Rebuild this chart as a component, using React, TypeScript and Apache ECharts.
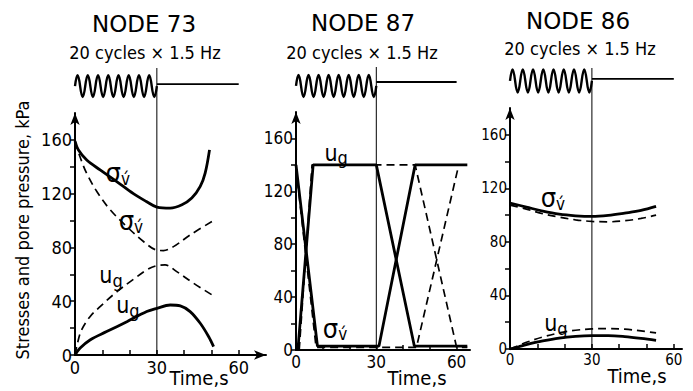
import React, { useEffect, useRef } from "react";
import * as echarts from "echarts";

// ---------- text ----------
const nodeTitles = ["NODE 73", "NODE 87", "NODE 86"];
const loadingLabel = "20 cycles × 1.5 Hz";
const yAxisTitle = "Stresses and pore pressure, kPa";
const xAxisTitle = "Time,s";

// ---------- ticks ----------
const xTickLabels = [0, 30, 60];
const xTickMarks = [0, 10, 20, 30, 40, 50, 60];
const yTickLabels = [0, 40, 80, 120, 160];
const yTickMarks = [0, 20, 40, 60, 80, 100, 120, 140, 160];

// ---------- loading schedule (s) ----------
const loadStart = 0;
const loadEnd = 30;
const recordEnd = 60;

// ---------- NODE 73 : [time s, kPa] ----------
const n73SigmaSolid = [
  [0, 159], [1.2, 152.6], [4.3, 145], [9.2, 137.7], [15.3, 129], [21.4, 120], [26.3, 114],
  [30, 110], [34.9, 109.2], [39.2, 111.7], [42.8, 116.7], [45.9, 125.4], [47.7, 135.3], [49.3, 152.6],
];
const n73SigmaDashed = [
  [0, 159], [1.8, 147.6], [4.3, 135], [8, 121.6], [12.9, 108], [19, 95.5], [25.1, 84.4],
  [30, 78], [32.4, 77.7], [36.1, 80.6], [42.2, 89.3], [50.2, 99.3],
];
const n73UgDashed = [
  [0, 0], [0.9, 8.7], [2.4, 18.6], [5.5, 28.5], [9.2, 36], [15.3, 47], [21.4, 56.3], [26.3, 63.3],
  [30, 66.5], [33, 67], [37.3, 62], [43.5, 53.3], [50.2, 44.7],
];
const n73UgSolid = [
  [0, 0], [1.8, 5], [5.5, 11.2], [11.6, 17.4], [19, 24.8], [26.3, 32.3], [30, 34.7], [34.9, 37.2],
  [38.6, 36.5], [42.2, 32.3], [45.9, 23.6], [49, 13.6], [50.8, 6.2],
];

// ---------- NODE 87 ----------
const n87SigmaSolid = [[0, 140], [8, 3], [31, 3], [44.5, 140], [64, 140]];
const n87UgSolid = [[0.7, 0], [6.4, 140], [30, 140], [44.2, 3], [64, 3]];
const n87SigmaDashed = [[0, 138], [7.5, 2], [45, 2], [60.8, 140], [64, 140]];
const n87UgDashed = [[1.2, 0], [6, 140], [44.5, 140], [60, 2], [64, 2]];

// ---------- NODE 86 ----------
const n86SigmaSolid = [
  [0, 109], [6, 106], [12, 103], [18, 100.7], [24, 99.5], [30, 99], [36, 99.8], [42, 101.5], [48, 103.5], [53.5, 106.5],
];
const n86SigmaDashed = [
  [0, 107.5], [6, 104.5], [12, 101], [18, 98.5], [24, 96.5], [30, 95.3], [36, 95], [42, 95.8], [48, 97.5], [53.5, 100],
];
const n86UgSolid = [
  [0, 0], [3, 1.5], [6, 3.2], [12, 6], [18, 8.2], [24, 9.5], [30, 10], [36, 10], [42, 9.3], [48, 8], [53.5, 6.5],
];
const n86UgDashed = [
  [0, 0], [3, 2.5], [6, 5], [12, 9], [18, 12], [24, 14], [30, 15], [36, 15.2], [42, 14.8], [48, 13.5], [53.5, 12],
];

// ---------- curve annotations: [panel, kind, time, kPa] ----------
const curveLabels: [number, "sigma" | "ug", number, number][] = [
  [0, "sigma", 15.7, 135.5],
  [0, "sigma", 20.5, 100],
  [0, "ug", 13.2, 59.5],
  [0, "ug", 19.4, 37],
  [1, "ug", 15, 149],
  [1, "sigma", 14.6, 16.6],
  [2, "sigma", 15.7, 113],
  [2, "ug", 16.8, 19.4],
];

// ---------- layout / styles ----------
const FONT = '"DejaVu Sans Condensed", "Liberation Sans Narrow", "DejaVu Sans", sans-serif';
const TITLE_FONT = '"DejaVu Sans", sans-serif';
const panels = [
  { left: 75, top: 113, width: 191, height: 242, xMax: 70, xArrow: true, tickFont: 18,
    loadTop: 68, stepLevel: 0.944, waveLevel: 0.937, waveAmp: 0.038,
    titleX: 144, titleY: 24, subX: 145, subY: 52, timeX: 199, timeY: 378 },
  { left: 296, top: 112, width: 174, height: 238, xMax: 65, xArrow: false, tickFont: 17,
    loadTop: 67, stepLevel: 0.947, waveLevel: 0.933, waveAmp: 0.039,
    titleX: 363, titleY: 23, subX: 362, subY: 52, timeX: 417, timeY: 378 },
  { left: 510, top: 108, width: 172, height: 241, xMax: 63, xArrow: false, tickFont: 15,
    loadTop: 68, stepLevel: 0.961, waveLevel: 0.954, waveAmp: 0.041,
    titleX: 578, titleY: 21, subX: 580, subY: 48, timeX: 637, timeY: 376 },
];
const WAVE_HUMPS = 8;

const panelSeries = [
  [
    { data: n73SigmaSolid, dashed: false, smooth: true },
    { data: n73SigmaDashed, dashed: true, smooth: true },
    { data: n73UgDashed, dashed: true, smooth: true },
    { data: n73UgSolid, dashed: false, smooth: true },
  ],
  [
    { data: n87SigmaSolid, dashed: false, smooth: false },
    { data: n87UgSolid, dashed: false, smooth: false },
    { data: n87SigmaDashed, dashed: true, smooth: false },
    { data: n87UgDashed, dashed: true, smooth: false },
  ],
  [
    { data: n86SigmaSolid, dashed: false, smooth: true },
    { data: n86SigmaDashed, dashed: true, smooth: true },
    { data: n86UgSolid, dashed: false, smooth: true },
    { data: n86UgDashed, dashed: true, smooth: true },
  ],
];

const rich = {
  s: { fontSize: 27, fontFamily: FONT, color: "#000" },
  v: { fontSize: 17, fontFamily: FONT, color: "#000", padding: [12, 0, 0, 0] },
  u: { fontSize: 23, fontFamily: FONT, color: "#000" },
  g: { fontSize: 18, fontFamily: FONT, color: "#000", padding: [10, 0, 0, 0] },
};

export default function App() {
  const ref = useRef<HTMLDivElement>(null);
  useEffect(() => {
    if (!ref.current) return;
    const chart = echarts.init(ref.current, undefined, { renderer: "svg" });

    const grid: any[] = [];
    const xAxis: any[] = [];
    const yAxis: any[] = [];
    const series: any[] = [];
    const graphic: any[] = [];

    panels.forEach((p, i) => {
      grid.push({ left: p.left, top: p.top, width: p.width, height: p.height });
      xAxis.push({
        gridIndex: i, type: "value", min: 0, max: p.xMax,
        axisLine: {
          show: true, onZero: false,
          symbol: p.xArrow ? ["none", "arrow"] : "none", symbolSize: [7, 12],
          lineStyle: { color: "#000", width: 2 },
        },
        axisTick: { show: true, inside: true, length: 5, customValues: xTickMarks, lineStyle: { color: "#000", width: 1.5 } },
        axisLabel: { customValues: xTickLabels, color: "#000", fontSize: p.tickFont, fontFamily: FONT, margin: 3 },
        splitLine: { show: false },
      });
      yAxis.push({
        gridIndex: i, type: "value", min: 0, max: 180,
        axisLine: {
          show: true, onZero: false, symbol: ["none", "arrow"], symbolSize: [7, 12],
          lineStyle: { color: "#000", width: 2 },
        },
        axisTick: { show: true, inside: false, length: 5, customValues: yTickMarks, lineStyle: { color: "#000", width: 1.5 } },
        axisLabel: { customValues: yTickLabels, color: "#000", fontSize: p.tickFont, fontFamily: FONT, margin: 3 },
        splitLine: { show: false },
      });
    });
    // overlay grids for the loading schematic
    panels.forEach((p, i) => {
      grid.push({ left: p.left, top: p.loadTop, width: p.width, height: p.top + p.height - p.loadTop });
      xAxis.push({ gridIndex: 3 + i, type: "value", min: 0, max: p.xMax, show: false });
      yAxis.push({ gridIndex: 3 + i, type: "value", min: 0, max: 1, show: false });
    });

    panelSeries.forEach((list, i) => {
      list.forEach((s, k) => {
        const item: any = {
          type: "line", xAxisIndex: i, yAxisIndex: i, data: s.data, smooth: s.smooth ? 0.35 : false,
          symbol: "none", silent: true,
          lineStyle: s.dashed
            ? { color: "#000", width: 1.7, type: [8, 5] }
            : { color: "#000", width: 2.8 },
        };
        if (k === 0) {
          item.markPoint = {
            symbol: "circle", symbolSize: 0, silent: true,
            label: { show: true, position: "inside", rich },
            data: curveLabels.filter((c) => c[0] === i).map((c) => ({
              coord: [c[2], c[3]],
              label: { formatter: c[1] === "sigma" ? "{s|σ}{v|v\u0301}" : "{u|u}{g|g}" },
            })),
          };
        }
        series.push(item);
      });
    });

    panels.forEach((p, i) => {
      const ax = 3 + i;
      series.push({
        type: "line", xAxisIndex: ax, yAxisIndex: ax, symbol: "none", silent: true,
        data: [[loadEnd, 0], [loadEnd, 1]], lineStyle: { color: "#000", width: 1 },
      });
      series.push({
        type: "line", xAxisIndex: ax, yAxisIndex: ax, symbol: "none", silent: true,
        data: [[loadEnd, p.stepLevel], [recordEnd, p.stepLevel]], lineStyle: { color: "#000", width: 1.8 },
      });
      series.push({
        type: "custom", xAxisIndex: ax, yAxisIndex: ax, silent: true,
        data: [[loadStart, loadEnd, p.waveLevel, p.waveAmp]],
        renderItem: (_params: any, api: any) => {
          const t0 = api.value(0), t1 = api.value(1), c = api.value(2), a = api.value(3);
          const p0 = api.coord([t0, c]);
          const p1 = api.coord([t1, c]);
          const ampPx = Math.abs(api.coord([t0, c + a])[1] - p0[1]) * (4 / 3);
          const w = (p1[0] - p0[0]) / WAVE_HUMPS;
          let d = `M${p0[0]},${p0[1]}`;
          for (let k = 0; k < WAVE_HUMPS; k++) {
            d += ` c${w * 0.18},${-ampPx} ${w * 0.32},${-ampPx} ${w * 0.5},0`;
            d += ` c${w * 0.18},${ampPx} ${w * 0.32},${ampPx} ${w * 0.5},0`;
          }
          return { type: "path", shape: { pathData: d }, style: { fill: "none", stroke: "#000", lineWidth: 2.4 } };
        },
      });

      graphic.push({
        type: "text", x: p.titleX, y: p.titleY,
        style: { text: nodeTitles[i], font: `23px ${TITLE_FONT}`, fill: "#000", textAlign: "center", textVerticalAlign: "middle" },
      });
      graphic.push({
        type: "text", x: p.subX, y: p.subY,
        style: { text: loadingLabel, font: `18px ${FONT}`, fill: "#000", textAlign: "center", textVerticalAlign: "middle" },
      });
      graphic.push({
        type: "text", x: p.timeX, y: p.timeY,
        style: { text: xAxisTitle, font: `20px ${FONT}`, fill: "#000", textAlign: "center", textVerticalAlign: "middle" },
      });
    });
    graphic.push({
      type: "text", x: 22, y: 230, rotation: Math.PI / 2,
      style: { text: yAxisTitle, font: `18px ${FONT}`, fill: "#000", textAlign: "center", textVerticalAlign: "middle" },
    });

    chart.setOption({
      animation: false,
      backgroundColor: "#fff",
      grid, xAxis, yAxis, series, graphic,
    });
    return () => chart.dispose();
  }, []);
  return <div ref={ref} style={{ position: "fixed", left: 0, top: 0, width: 693, height: 391 }} />;
}
